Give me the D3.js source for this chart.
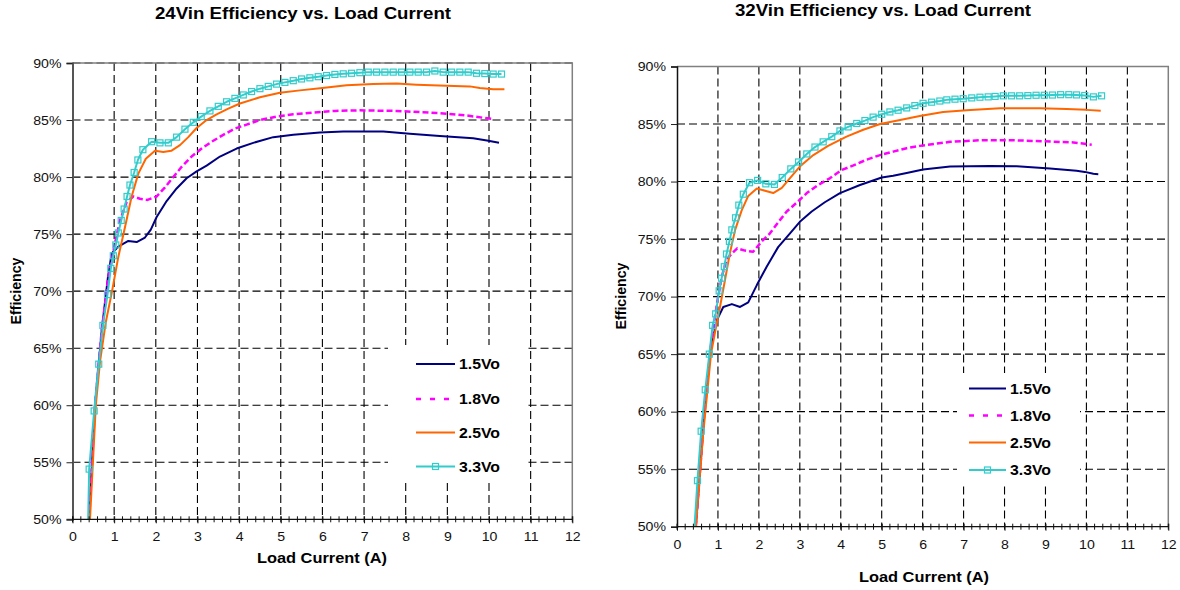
<!DOCTYPE html>
<html>
<head>
<meta charset="utf-8">
<script src="https://cdn.jsdelivr.net/npm/d3@7"></script>
<style>
  body { margin: 0; background: #fff; }
  svg { display: block; font-family: "Liberation Sans", Arial, sans-serif; }
</style>
</head>
<body>
<svg id="chart" width="1180" height="590"></svg>
<script>
// values: [load current A, efficiency %]
const xTicks = [0, 1, 2, 3, 4, 5, 6, 7, 8, 9, 10, 11, 12];
const yTicks = [50, 55, 60, 65, 70, 75, 80, 85, 90];
const seriesNames = ["1.5Vo", "1.8Vo", "2.5Vo", "3.3Vo"];
const titles = ["24Vin Efficiency vs. Load Current", "32Vin Efficiency vs. Load Current"];

const vin24_15 = [[0.40,50],[0.54,60],[0.70,66.5],[0.85,71.2],[0.94,73.3],[1.10,73.9],[1.34,74.4],[1.54,74.3],[1.74,74.7],[1.88,75.4],[2.02,76.5],[2.26,77.9],[2.50,79.0],[2.74,79.9],[2.98,80.5],[3.22,81.0],[3.54,81.8],[3.94,82.5],[4.34,83.0],[4.82,83.5],[5.30,83.7],[5.94,83.9],[6.50,84.0],[6.90,84.0],[7.46,84.0],[8.10,83.8],[8.82,83.6],[9.62,83.4],[9.95,83.2],[10.24,83.0]];
const vin24_18 = [[0.40,50],[0.54,60],[0.70,66.5],[0.86,71.2],[1.02,74.2],[1.14,76.2],[1.30,77.8],[1.46,78.3],[1.62,78.1],[1.80,78.0],[2.02,78.3],[2.22,79.1],[2.42,80.0],[2.62,80.9],[2.86,81.8],[3.10,82.5],[3.34,83.1],[3.62,83.7],[3.90,84.25],[4.18,84.6],[4.50,85.0],[4.90,85.3],[5.30,85.5],[5.78,85.65],[6.30,85.8],[6.86,85.85],[7.78,85.8],[8.82,85.6],[9.46,85.4],[9.86,85.2],[10.09,85.1]];
const vin24_25 = [[0.42,50],[0.56,60],[0.66,63.8],[0.80,67.3],[0.95,70.0],[1.10,73.0],[1.26,75.6],[1.42,78.3],[1.58,80.3],[1.76,81.6],[1.98,82.3],[2.18,82.2],[2.37,82.3],[2.58,82.8],[2.78,83.5],[2.98,84.3],[3.22,85.0],[3.46,85.5],[3.74,86.0],[4.02,86.45],[4.50,87.0],[4.98,87.4],[5.46,87.6],[6.00,87.8],[6.58,88.05],[7.22,88.15],[7.78,88.2],[8.26,88.1],[8.98,88.0],[9.54,87.95],[9.78,87.8],[10.10,87.7],[10.37,87.7]];
const vin24_33 = [[0.36,47],[0.40,54.4],[0.52,59.5],[0.63,63.6],[0.73,67.0],[0.84,69.7],[0.92,72.0],[0.98,73.1],[1.04,74.05],[1.10,75.1],[1.17,76.2],[1.24,77.2],[1.31,78.3],[1.38,79.3],[1.48,80.4],[1.57,81.5],[1.69,82.4],[1.90,83.1],[2.10,83.0],[2.30,83.0],[2.50,83.5],[2.70,84.2],[2.90,84.8],[3.09,85.3],[3.30,85.8],[3.50,86.2],[3.70,86.6],[3.90,86.9],[4.10,87.2],[4.30,87.5],[4.50,87.75],[4.70,87.95],[4.90,88.15],[5.10,88.3],[5.30,88.45],[5.50,88.6],[5.70,88.7],[5.90,88.8],[6.10,88.9],[6.30,89.0],[6.50,89.05],[6.70,89.1],[6.90,89.15],[7.10,89.2],[7.30,89.2],[7.50,89.2],[7.70,89.2],[7.90,89.2],[8.10,89.2],[8.30,89.2],[8.50,89.2],[8.70,89.3],[8.90,89.2],[9.10,89.2],[9.30,89.2],[9.50,89.2],[9.70,89.1],[9.90,89.07],[10.10,89.03],[10.30,89.03]];

const vin32_15 = [[0.46,50],[0.66,59.5],[0.82,65.5],[0.98,68.0],[1.13,69.1],[1.34,69.35],[1.54,69.1],[1.74,69.5],[1.95,71.0],[2.19,72.6],[2.47,74.3],[2.76,75.5],[3.00,76.5],[3.29,77.4],[3.61,78.2],[3.98,79.0],[4.47,79.7],[5.00,80.35],[5.28,80.5],[5.61,80.75],[6.01,81.05],[6.67,81.3],[7.64,81.36],[8.30,81.34],[9.11,81.14],[9.76,80.93],[9.96,80.84],[10.17,80.67],[10.29,80.64]];
const vin32_18 = [[0.46,50],[0.66,59.5],[0.82,65.5],[0.98,69.5],[1.10,71.8],[1.21,73.2],[1.34,73.75],[1.47,74.2],[1.66,74.0],[1.86,73.9],[2.07,74.8],[2.27,75.5],[2.47,76.45],[2.68,77.4],[2.92,78.15],[3.17,79.0],[3.45,79.7],[3.74,80.3],[4.02,81.0],[4.31,81.4],[4.63,81.9],[4.96,82.3],[5.28,82.6],[5.61,82.9],[5.93,83.1],[6.67,83.45],[7.48,83.6],[8.13,83.6],[8.94,83.5],[9.68,83.4],[10.13,83.2]];
const vin32_25 = [[0.46,50],[0.64,58.1],[0.83,65.0],[0.95,67.3],[1.05,69.1],[1.17,71.4],[1.29,73.75],[1.42,75.8],[1.58,77.5],[1.74,78.75],[1.95,79.4],[2.15,79.2],[2.35,79.0],[2.56,79.45],[2.76,80.3],[3.00,81.3],[3.33,82.3],[3.69,83.1],[4.14,83.9],[4.55,84.5],[4.96,85.0],[5.45,85.35],[5.93,85.7],[6.50,86.05],[7.07,86.2],[7.89,86.38],[8.86,86.38],[9.52,86.3],[10.00,86.23],[10.35,86.15]];
const vin32_33 = [[0.40,48.5],[0.50,54.0],[0.59,58.3],[0.69,61.9],[0.79,65.0],[0.87,67.5],[0.945,68.5],[1.03,70.5],[1.09,71.6],[1.155,72.6],[1.21,73.7],[1.28,74.8],[1.34,75.8],[1.43,76.85],[1.51,77.95],[1.62,78.9],[1.77,79.9],[1.97,80.1],[2.17,79.8],[2.38,79.75],[2.57,80.35],[2.78,81.1],[2.97,81.7],[3.17,82.4],[3.37,83.0],[3.57,83.45],[3.78,83.9],[3.98,84.4],[4.18,84.75],[4.39,85.05],[4.59,85.3],[4.79,85.6],[5.00,85.85],[5.20,86.05],[5.40,86.2],[5.61,86.4],[5.81,86.6],[6.01,86.8],[6.22,86.9],[6.42,87.0],[6.59,87.1],[6.79,87.16],[6.99,87.2],[7.20,87.27],[7.40,87.33],[7.60,87.36],[7.77,87.4],[7.97,87.45],[8.17,87.45],[8.37,87.45],[8.57,87.47],[8.77,87.5],[8.97,87.5],[9.17,87.52],[9.37,87.55],[9.57,87.55],[9.76,87.53],[9.96,87.48],[10.17,87.36],[10.37,87.45]];

const styles = [
  { color: "#000080", dash: null, legendDash: null, width: 2 },
  { color: "#ff00ff", dash: "6,3", legendDash: "5,9", width: 2.5 },
  { color: "#ff6600", dash: null, legendDash: null, width: 2 },
  { color: "#33cccc", dash: null, legendDash: null, width: 2, marker: true }
];

const STRETCH = 1.13; // source image is slightly stretched horizontally

const svg = d3.select("#chart");

function widen(sel) {
  sel.each(function () {
    const w = this.getComputedTextLength();
    d3.select(this).attr("textLength", w * STRETCH).attr("lengthAdjust", "spacingAndGlyphs");
  });
}

function drawChart(cfg) {
  const x = d3.scaleLinear().domain([0, 12]).range([cfg.left, cfg.right]);
  const y = d3.scaleLinear().domain([50, 90]).range([cfg.bottom, cfg.top]);
  const g = svg.append("g");

  g.append("clipPath").attr("id", cfg.id + "-clip")
    .append("rect")
      .attr("x", cfg.left).attr("y", cfg.top)
      .attr("width", cfg.right - cfg.left).attr("height", cfg.bottom - cfg.top);

  // dashed grid
  g.append("g").selectAll("line")
    .data(xTicks.filter(d => d > 0 && d < 12))
    .join("line")
      .attr("x1", d => x(d)).attr("x2", d => x(d))
      .attr("y1", cfg.top).attr("y2", cfg.bottom)
      .attr("stroke", "#000").attr("stroke-width", 1.1).attr("stroke-dasharray", "8,4");
  g.append("g").selectAll("line")
    .data(yTicks.filter(d => d > 50))
    .join("line")
      .attr("x1", cfg.left).attr("x2", cfg.right)
      .attr("y1", d => y(d)).attr("y2", d => y(d))
      .attr("stroke", "#000").attr("stroke-width", 1.1).attr("stroke-dasharray", "8,4");

  // frame: top & right grey
  g.append("path")
    .attr("d", `M${cfg.left},${cfg.top}H${cfg.right}V${cfg.bottom}`)
    .attr("fill", "none").attr("stroke", "#808080").attr("stroke-width", 1.5);

  // series
  const data = cfg.series;
  const line = d3.line().x(d => x(d[0])).y(d => y(d[1]));
  const plot = g.append("g").attr("clip-path", `url(#${cfg.id}-clip)`);
  data.forEach((pts, i) => {
    const st = styles[i];
    plot.append("path")
      .datum(pts)
      .attr("d", line)
      .attr("fill", "none")
      .attr("stroke", st.color)
      .attr("stroke-width", st.width)
      .attr("stroke-linejoin", "round")
      .attr("stroke-dasharray", st.dash);
    if (st.marker) {
      plot.append("g").selectAll("rect")
        .data(pts)
        .join("rect")
          .attr("x", d => x(d[0]) - 3).attr("y", d => y(d[1]) - 3)
          .attr("width", 6).attr("height", 6)
          .attr("fill", "none").attr("stroke", st.color).attr("stroke-width", 1.2);
    }
  });

  // legend with white backing
  const lg = g.append("g");
  lg.append("rect")
    .attr("x", cfg.legend.x0).attr("y", cfg.legend.y0)
    .attr("width", cfg.legend.x1 - cfg.legend.x0).attr("height", cfg.legend.y1 - cfg.legend.y0)
    .attr("fill", "#fff");
  seriesNames.forEach((name, i) => {
    const st = styles[i];
    const ly = cfg.legend.rows[i];
    lg.append("line")
      .attr("x1", cfg.legend.lx0).attr("x2", cfg.legend.lx1)
      .attr("y1", ly).attr("y2", ly)
      .attr("stroke", st.color).attr("stroke-width", st.width)
      .attr("stroke-dasharray", st.legendDash);
    if (st.marker) {
      const mx = (cfg.legend.lx0 + cfg.legend.lx1) / 2;
      lg.append("rect")
        .attr("x", mx - 3).attr("y", ly - 3).attr("width", 6).attr("height", 6)
        .attr("fill", "none").attr("stroke", st.color).attr("stroke-width", 1.2);
    }
    lg.append("text")
      .attr("x", cfg.legend.lx1 + 4).attr("y", ly + 5)
      .attr("font-size", 14).attr("font-weight", "bold")
      .text(name)
      .call(widen);
  });

  // y axis
  const yAxis = g.append("g")
    .attr("transform", `translate(${cfg.left},0)`)
    .call(d3.axisLeft(y).tickValues(yTicks).tickFormat(d => d + "%").tickSize(6).tickPadding(5));
  yAxis.select(".domain").attr("stroke", cfg.yAxisColor).attr("stroke-width", cfg.yAxisWidth);
  yAxis.selectAll(".tick line").attr("stroke", "#222");
  yAxis.selectAll("text")
    .attr("font-size", 12.5).attr("fill", "#111")
    .attr("font-family", "Liberation Sans, Arial, sans-serif")
    .call(widen);

  // x axis: minor ticks crossing the line
  const minor = d3.range(0, 12.001, 0.2);
  const xa = g.append("g");
  xa.append("line")
    .attr("x1", cfg.left).attr("x2", cfg.right)
    .attr("y1", cfg.bottom).attr("y2", cfg.bottom)
    .attr("stroke", "#111").attr("stroke-width", 1.2);
  xa.selectAll("line.mt")
    .data(minor)
    .join("line")
      .attr("class", "mt")
      .attr("x1", d => x(d)).attr("x2", d => x(d))
      .attr("y1", cfg.bottom - 3).attr("y2", cfg.bottom + 3)
      .attr("stroke", "#111").attr("stroke-width", 1);
  const xAxis = g.append("g")
    .attr("transform", `translate(0,${cfg.bottom})`)
    .call(d3.axisBottom(x).tickValues(xTicks).tickFormat(d3.format("d")).tickSize(4).tickPadding(cfg.xPad));
  xAxis.select(".domain").remove();
  xAxis.selectAll(".tick line").attr("stroke", "#111").attr("y1", -3);
  xAxis.selectAll("text")
    .attr("font-size", 12.5).attr("fill", "#111")
    .attr("font-family", "Liberation Sans, Arial, sans-serif")
    .call(widen);

  // titles
  g.append("text")
    .attr("x", cfg.titleX).attr("y", cfg.titleY)
    .attr("text-anchor", "middle").attr("font-size", 16.5).attr("font-weight", "bold")
    .text(cfg.title)
    .call(widen);
  g.append("text")
    .attr("x", cfg.xLabelX).attr("y", cfg.xLabelY)
    .attr("text-anchor", "middle").attr("font-size", 14.5).attr("font-weight", "bold")
    .text("Load Current (A)")
    .call(widen);
  g.append("text")
    .attr("transform", `translate(${cfg.yLabelX},${cfg.yLabelY}) rotate(-90)`)
    .attr("text-anchor", "middle").attr("font-size", 14.2).attr("font-weight", "bold")
    .text("Efficiency");
}

drawChart({
  id: "v24", title: titles[0],
  left: 72.5, right: 572.3, top: 63, bottom: 519.3,
  series: [vin24_15, vin24_18, vin24_25, vin24_33],
  yAxisColor: "#555", yAxisWidth: 2, xPad: 9,
  titleX: 303, titleY: 19,
  xLabelX: 322, xLabelY: 563,
  yLabelX: 21, yLabelY: 291,
  legend: { x0: 388, y0: 345, x1: 525, y1: 483, lx0: 416, lx1: 455, rows: [364, 399, 432.5, 466.5] }
});

drawChart({
  id: "v32", title: titles[1],
  left: 677, right: 1168.3, top: 66.5, bottom: 526.7,
  series: [vin32_15, vin32_18, vin32_25, vin32_33],
  yAxisColor: "#111", yAxisWidth: 1.5, xPad: 9,
  titleX: 883, titleY: 16,
  xLabelX: 924, xLabelY: 582,
  yLabelX: 626, yLabelY: 296,
  legend: { x0: 957, y0: 373, x1: 1080, y1: 485, lx0: 969, lx1: 1006, rows: [388.5, 415.5, 442.5, 470] }
});
</script>
</body>
</html>
